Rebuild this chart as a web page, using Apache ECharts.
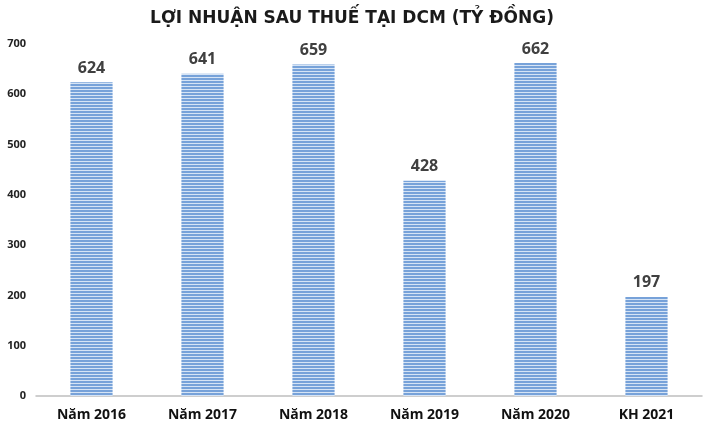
<!DOCTYPE html>
<html><head><meta charset="utf-8">
<script src="https://cdn.jsdelivr.net/npm/echarts@6/dist/echarts.min.js"></script>
<style>html,body{margin:0;padding:0;background:#fff}#c{width:704px;height:431px}</style>
</head><body><div id="c"></div>
<script>
const categories = ['Năm 2016','Năm 2017','Năm 2018','Năm 2019','Năm 2020','KH 2021'];
const profit = [624, 641, 659, 428, 662, 197];
const yTicks = [0, 100, 200, 300, 400, 500, 600, 700];

const pc = document.createElement('canvas');
pc.width = 4; pc.height = 3;
const g = pc.getContext('2d');
g.fillStyle = '#d6e4f5'; g.fillRect(0,0,4,3);
g.fillStyle = '#77a2d9'; g.fillRect(0,0,4,2);

const chart = echarts.init(document.getElementById('c'));
chart.setOption({
  animation: false,
  title: {
    text: 'LỢI NHUẬN SAU THUẾ TẠI DCM (TỶ ĐỒNG)',
    left: 'center', top: 5,
    textStyle: {fontFamily: 'DejaVu Sans', fontSize: 17, fontWeight: 'bold', color: '#1a1a1a'}
  },
  grid: {left: 36, right: 2, top: 44, bottom: 35},
  xAxis: {
    type: 'category', data: categories,
    axisLine: {lineStyle: {color: '#bfbfbf', width: 1.5}},
    axisTick: {show: false},
    axisLabel: {fontFamily: 'Open Sans', fontSize: 14, fontWeight: 'bold', color: '#111', margin: 12}
  },
  yAxis: {
    type: 'value', min: yTicks[0], max: yTicks[yTicks.length-1], interval: 100,
    splitLine: {show: false},
    axisLine: {show: false}, axisTick: {show: false},
    axisLabel: {fontFamily: 'Open Sans', fontSize: 11, fontWeight: 'bold', color: '#222', margin: 10}
  },
  series: [{
    type: 'bar', data: profit, barWidth: '38%',
    itemStyle: {color: {image: pc, repeat: 'repeat'}},
    label: {show: true, position: 'top', distance: 6, fontFamily: 'Open Sans', fontSize: 16, fontWeight: 'bold', color: '#404040'}
  }]
});
</script></body></html>
